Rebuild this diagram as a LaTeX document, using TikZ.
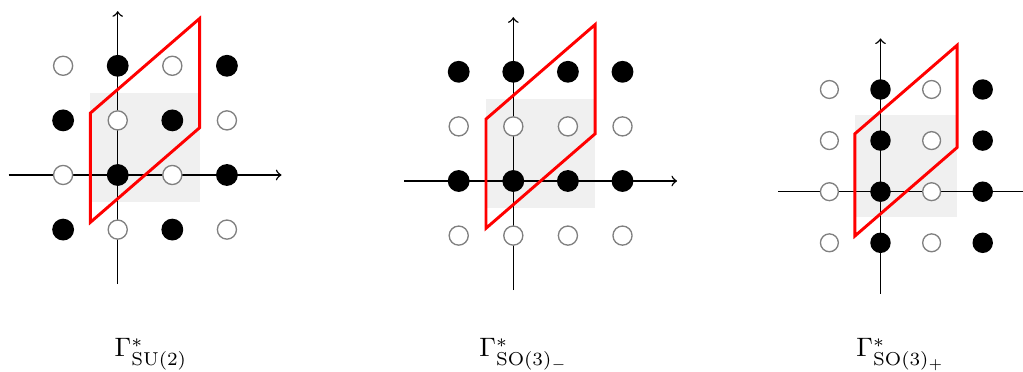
\documentclass[tikz,border=0pt]{standalone}
\usepackage{amsmath,amssymb}
\usepackage{tikz}

\begin{document}
\begin{tikzpicture}[x=0.72cm, y=0.72cm,
  axis/.style={->, line width=0.55pt},
  full/.style={fill=black},
  empty/.style={draw=gray, fill=white, line width=0.5pt},
  cell/.style={red, line width=1.1pt}]
  \useasboundingbox (-2.156,-3.59) rectangle (16.58,3.205);
  % SU(2)
  \begin{scope}
    \fill[gray!12] (-0.5,-0.5) rectangle (1.5,1.5);
    \draw[axis] (-2,0) -- (3,0);
    \draw[axis] (0,-2) -- (0,3);
    \foreach \x in {-1,...,2}
      \foreach \y in {-1,...,2} {
        \ifodd\numexpr\x+\y\relax \draw[empty] (\x,\y) circle (0.175);
        \else \fill[full] (\x,\y) circle (0.2); \fi
      }
    \draw[cell] (-0.5,-0.866) -- (1.5,0.866) -- (1.5,2.866) -- (-0.5,1.134) -- cycle;
    \node[anchor=base] (lsu) at (0.61,-3.33) {$\Gamma^*_{\mathrm{SU}(2)}$};
  \end{scope}
  % SO(3)_-
  \begin{scope}[shift={(7.245,-0.11)}]
    \fill[gray!12] (-0.5,-0.5) rectangle (1.5,1.5);
    \draw[axis] (-2,0) -- (3,0);
    \draw[axis] (0,-2) -- (0,3);
    \foreach \x in {-1,...,2}
      \foreach \y in {-1,...,2} {
        \ifodd\numexpr\y\relax \draw[empty] (\x,\y) circle (0.175);
        \else \fill[full] (\x,\y) circle (0.2); \fi
      }
    \draw[cell] (-0.5,-0.866) -- (1.5,0.866) -- (1.5,2.866) -- (-0.5,1.134) -- cycle;
  \end{scope}
  \node[anchor=base] (lminus) at (7.44,-3.33) {$\Gamma^*_{\mathrm{SO}(3)_-}$};
  % SO(3)_+
  \begin{scope}[shift={(13.97,-0.306)}, scale=0.936]
    \fill[gray!12] (-0.5,-0.5) rectangle (1.5,1.5);
    \draw[axis] (-2,0) -- (3,0);
    \draw[axis] (0,-2) -- (0,3);
    \foreach \x in {-1,...,2}
      \foreach \y in {-1,...,2} {
        \ifodd\numexpr\x\relax \draw[empty] (\x,\y) circle (0.175);
        \else \fill[full] (\x,\y) circle (0.2); \fi
      }
    \draw[cell] (-0.5,-0.866) -- (1.5,0.866) -- (1.5,2.866) -- (-0.5,1.134) -- cycle;
  \end{scope}
  \node[anchor=base] (lplus) at (14.34,-3.33) {$\Gamma^*_{\mathrm{SO}(3)_+}$};
\end{tikzpicture}
\end{document}
